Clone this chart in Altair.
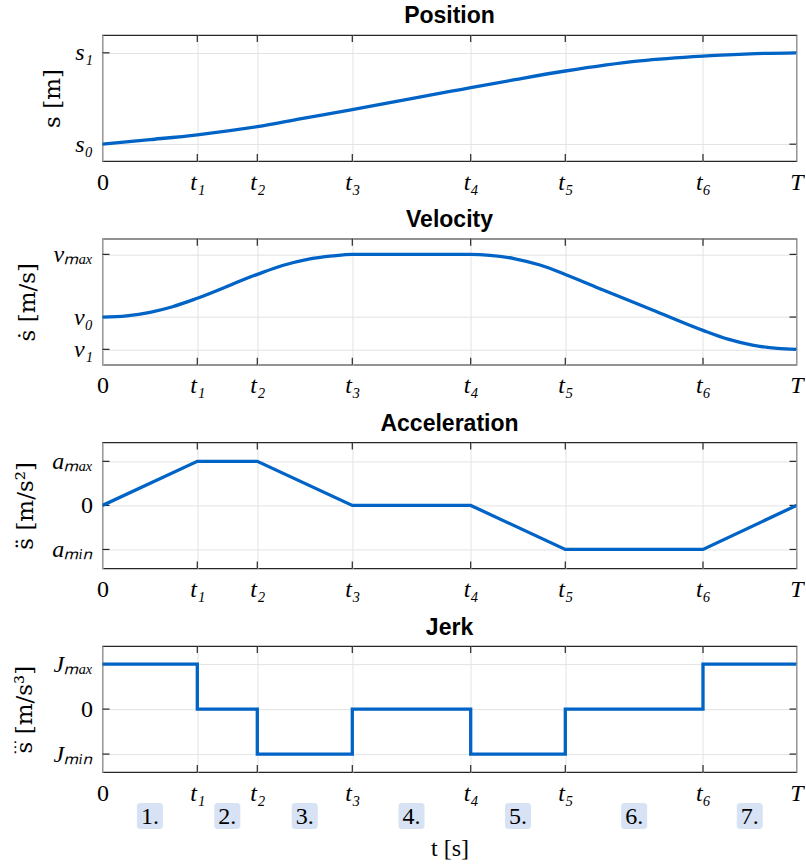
import altair as alt
import pandas as pd

# ---------------- data ----------------
tick_times = [0.0, 0.948, 1.548, 2.498, 3.682, 4.628, 6.005, 6.94]
tick_names = ["0", "t₁", "t₂", "t₃", "t₄", "t₅", "t₆", "T"]

pos_t = [0.0, 0.475, 0.948, 1.548, 1.975, 2.498, 3.075, 3.475, 3.682, 4.125, 4.628, 5.375, 6.005, 6.475, 6.94]
pos_s = [0.0, 0.05, 0.103, 0.191, 0.276, 0.379, 0.497, 0.577, 0.618, 0.706, 0.801, 0.912, 0.964, 0.989, 1.0]

vel_t = [0.0, 0.24, 0.475, 0.7, 0.948, 1.548, 1.8, 2.05, 2.3, 2.498, 3.682, 3.875, 4.125, 4.375, 4.628, 5.0, 5.5, 6.005, 6.255, 6.5, 6.75, 6.94]
vel_v = [0.0, 0.02, 0.075, 0.165, 0.300, 0.681, 0.822, 0.92, 0.975, 1.0, 1.0, 0.985, 0.93, 0.83, 0.68, 0.436, 0.114, -0.212, -0.352, -0.447, -0.501, -0.515]

acc_t = [0.0, 0.948, 1.548, 2.498, 3.682, 4.628, 6.005, 6.94]
acc_a = [0.0, 1.0, 1.0, 0.0, 0.0, -1.0, -1.0, 0.0]

jerk_t = [0.0, 0.948, 1.548, 2.498, 3.682, 4.628, 6.005, 6.94]
jerk_j = [1.0, 0.0, -1.0, 0.0, -1.0, 0.0, 1.0, 1.0]

phase_start = [0.0, 0.948, 1.548, 2.498, 3.682, 4.628, 6.005]
phase_end = [0.948, 1.548, 2.498, 3.682, 4.628, 6.005, 6.94]
phase_label = ["1.", "2.", "3.", "4.", "5.", "6.", "7."]

pos_ticks = [0.0, 1.0]
pos_names = ["s₀", "s₁"]
vel_ticks = [-0.515, 0.0, 1.0]
vel_names = ["v₁", "v₀", "vₘₐₓ"]
acc_ticks = [-1.0, 0.0, 1.0]
acc_names = ["aₘᵢₙ", "0", "aₘₐₓ"]
jerk_ticks = [-1.0, 0.0, 1.0]
jerk_names = ["Jₘᵢₙ", "0", "Jₘₐₓ"]

# ---------------- style ----------------
W, H = 694, 126
BLUE = "#0063C6"
FRAME = "#262626"
GRID = "#e3e3e3"
SERIF = "Liberation Serif"
TSERIF = "DejaVu Serif"
SANS = "Liberation Sans"
TICK = 7


def label_expr(values, names):
    vals = ",".join(repr(float(v)) for v in values)
    nms = ",".join("'" + n + "'" for n in names)
    return f"[{nms}][indexof([{vals}], datum.value)]"


def x_axis(last):
    kw = dict(
        values=tick_times,
        labelExpr=label_expr(tick_times, tick_names),
        grid=True, gridColor=GRID, ticks=False, domain=False,
        labelFont=SERIF, labelFontSize=24, labelColor="black",
        labelFontStyle=alt.condition("datum.value == 0", alt.value("normal"), alt.value("italic")),
        labelPadding=9, labelFlush=False, labelOverlap=False,
    )
    if last:
        kw.update(title="t [s]", titleFont=SERIF, titleFontSize=24, titleFontWeight="normal",
                  titleColor="black", titleY=76, titleBaseline="middle")
    else:
        kw.update(title=None)
    return alt.Axis(**kw)


def y_axis(values, names, title, zero_upright, title_x):
    if zero_upright:
        style = alt.condition("datum.value == 0", alt.value("normal"), alt.value("italic"))
    else:
        style = "italic"
    return alt.Axis(
        values=values, labelExpr=label_expr(values, names),
        grid=True, gridColor=GRID, ticks=False, domain=False,
        labelFont=SERIF, labelFontSize=24, labelColor="black", labelFontStyle=style,
        labelPadding=10, labelOverlap=False,
        title=title, titleFont=TSERIF, titleFontSize=23, titleFontWeight="normal",
        titleColor="black", titleX=title_x, titleY=H / 2, titleAngle=270,
        titleBaseline="bottom", titleAlign="center",
    )


def panel(name, t, y, interp, ydomain, yticks, ynames, ytitle, zero_upright, title_x, last=False, extra=None):
    df = pd.DataFrame({"t": t, "y": y})
    xs = alt.Scale(domain=[0, tick_times[-1]], nice=False, zero=False)
    ys = alt.Scale(domain=ydomain, nice=False, zero=False)
    line = alt.Chart(df).mark_line(color=BLUE, strokeWidth=3.3, interpolate=interp, clip=True).encode(
        x=alt.X("t:Q", scale=xs, axis=x_axis(last)),
        y=alt.Y("y:Q", scale=ys, axis=y_axis(yticks, ynames, ytitle, zero_upright, title_x)),
    )
    xt = pd.DataFrame({"t": tick_times[1:-1]})
    yt = pd.DataFrame({"y": yticks})
    tb = alt.Chart(xt).mark_rule(color=FRAME, strokeWidth=1.2).encode(
        x="t:Q", y=alt.value(H), y2=alt.value(H - TICK))
    tt = alt.Chart(xt).mark_rule(color=FRAME, strokeWidth=1.2).encode(
        x="t:Q", y=alt.value(0), y2=alt.value(TICK))
    tl = alt.Chart(yt).mark_rule(color=FRAME, strokeWidth=1.2).encode(
        y="y:Q", x=alt.value(0), x2=alt.value(TICK))
    tr = alt.Chart(yt).mark_rule(color=FRAME, strokeWidth=1.2).encode(
        y="y:Q", x=alt.value(W), x2=alt.value(W - TICK))
    layers = [tb, tt, tl, tr, line]
    if extra:
        layers += extra
    return alt.layer(*layers).properties(
        width=W, height=H,
        title=alt.TitleParams(name, font=SANS, fontSize=23, fontWeight="bold", color="black", offset=6),
    )


phase_df = pd.DataFrame({"start": phase_start, "end": phase_end, "label": phase_label})
boxes = alt.Chart(phase_df).transform_calculate(
    mid="(datum.start + datum.end) / 2"
).mark_rect(width=26, height=26, cornerRadius=3, color="#d7e2f4").encode(
    x="mid:Q", y=alt.value(H + 44))
box_text = alt.Chart(phase_df).transform_calculate(
    mid="(datum.start + datum.end) / 2"
).mark_text(font=SERIF, fontSize=24, color="black", baseline="middle", align="center", dy=1).encode(
    x="mid:Q", y=alt.value(H + 44), text="label:N")

# three dots of the jerk symbol (drawn above the rotated "s" of the axis title)
dots = alt.Chart(pd.DataFrame({"k": [0]})).mark_text(
    font="DejaVu Sans", fontSize=15, color="black", align="center", baseline="middle"
).encode(x=alt.value(-87), y=alt.value(101), text=alt.value("⋮"))

p1 = panel("Position", pos_t, pos_s, "monotone", [-0.184, 1.195], pos_ticks, pos_names, "s [m]", False, -38)
p2 = panel("Velocity", vel_t, vel_v, "monotone", [-0.76, 1.25], vel_ticks, vel_names, "ṡ [m/s]", False, -63)
p3 = panel("Acceleration", acc_t, acc_a, "linear", [-1.43, 1.43], acc_ticks, acc_names, "s̈ [m/s²]", True, -65)
p4 = panel("Jerk", jerk_t, jerk_j, "step-after", [-1.4, 1.4], jerk_ticks, jerk_names, "s [m/s³]", True, -66,
           last=True, extra=[boxes, box_text, dots])

chart = alt.vconcat(p1, p2, p3, p4, spacing=77.7, bounds="flush").properties(
    padding={"left": 6.5, "top": 4, "right": 0, "bottom": 0},
    background="white",
).configure_view(stroke=FRAME, strokeWidth=1.2)

chart.save("out.html", embed_options={"renderer": "svg", "actions": False})
